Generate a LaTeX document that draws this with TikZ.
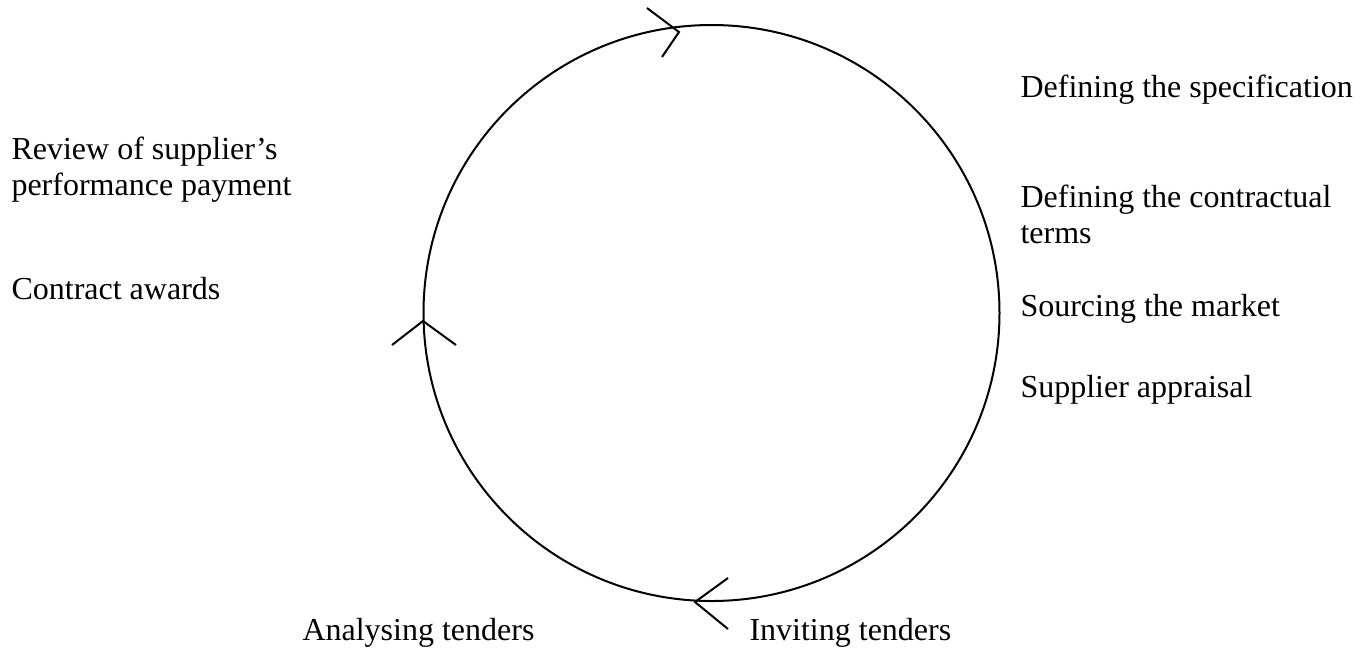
\documentclass[tikz,border=0pt]{standalone}
\usepackage{fontspec}
\setmainfont{Liberation Serif}
\usepackage{tikz}
\usetikzlibrary{positioning,calc}
\tikzset{
    stage/.style={anchor=base west, align=left, inner sep=0pt, font=\fontsize{12}{13.5}\selectfont},
    ring/.style={line width=0.75pt},
    chevron/.style={line width=0.75pt}
}

\begin{document}
\begin{tikzpicture}[x=0.375pt, y=-0.375pt]
\useasboundingbox (0,0) rectangle (1369,649);
\begin{scope}
    % the cycle
    \coordinate (c) at (711.5,313);
    \draw[ring] (c) circle [radius=288];
    % open arrowheads on the ring
    \coordinate (ctop) at (679,32);
    \coordinate (cleft) at (423,321);
    \coordinate (cbot) at (695,602);
    \draw[chevron] ($(ctop)+(-32,-24)$) -- (ctop) -- ($(ctop)+(-17,25)$);
    \draw[chevron] ($(cleft)+(-31,24)$) -- (cleft) -- ($(cleft)+(33,24)$);
    \draw[chevron] ($(cbot)+(33,-24)$) -- (cbot) -- ($(cbot)+(33,27)$);
    % stage labels (base = last line)
    \foreach \n/\x/\y/\t in {spec/1020/97/{Defining the specification},
                             terms/1020/243/{Defining the contractual\\terms},
                             market/1020/316/{Sourcing the market},
                             appraisal/1020/397/{Supplier appraisal},
                             review/11/195/{Review of supplier’s\\performance payment},
                             award/11/299/{Contract awards},
                             analyse/302/640/{Analysing tenders},
                             invite/749/640/{Inviting tenders}}{
        \node[stage] (\n) at (\x,\y) {\t};
    }
\end{scope}
\end{tikzpicture}
\end{document}
